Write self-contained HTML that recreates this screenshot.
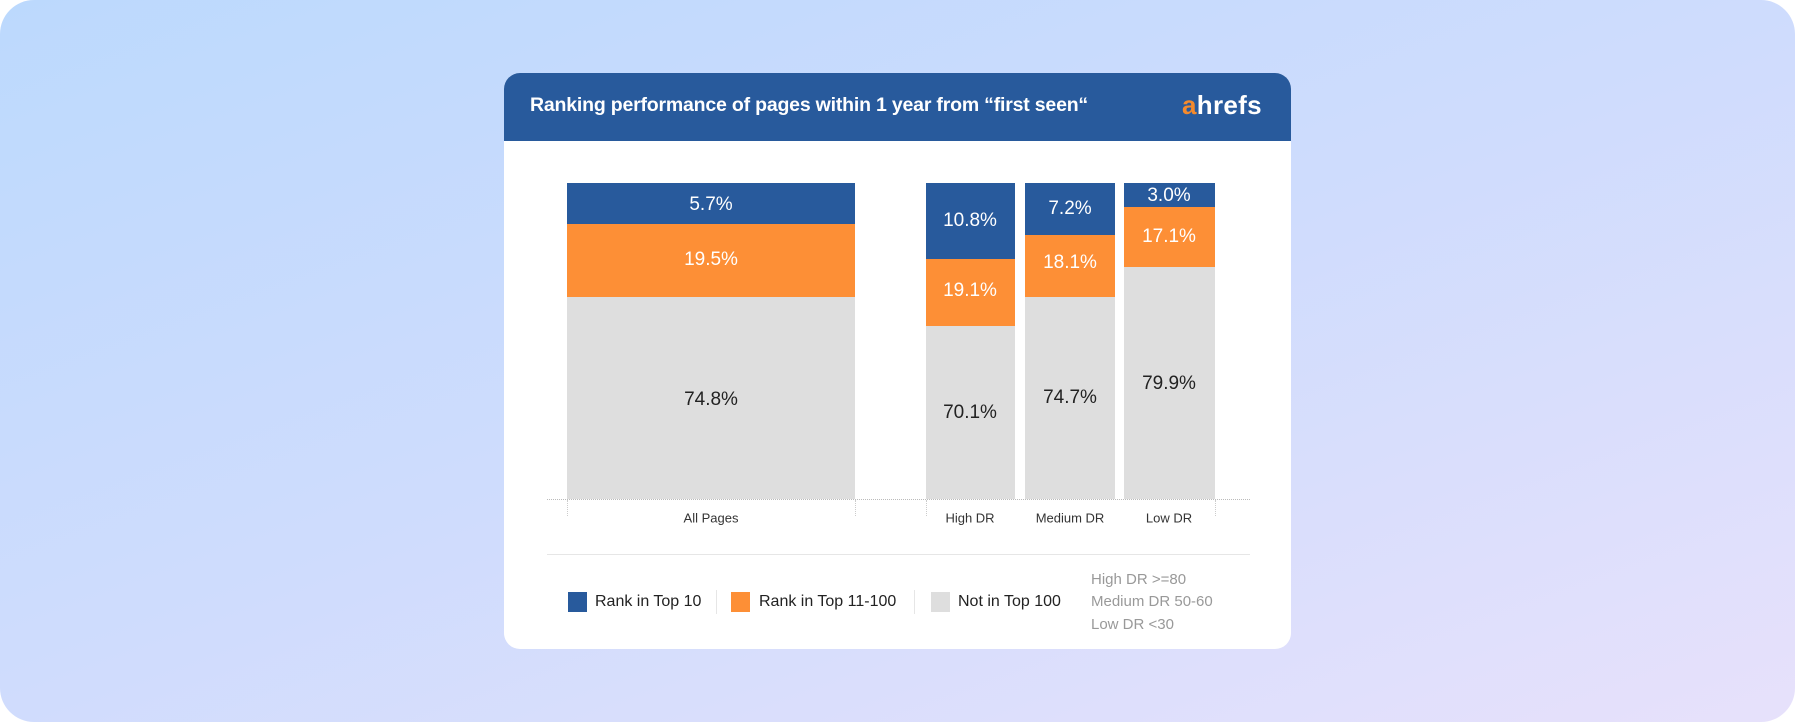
<!DOCTYPE html>
<html><head><style>
*{margin:0;padding:0;box-sizing:border-box}
body{width:1795px;height:722px;background:#fff;position:relative;overflow:hidden;font-family:"Liberation Sans",sans-serif}
.bg{position:absolute;left:0;top:0;width:1795px;height:722px;border-radius:34px;background:linear-gradient(160deg,#bcd9fd 0%,#cfdcfd 50%,#e7e1fb 100%)}
.card{position:absolute;left:504px;top:73px;width:787px;height:576px;background:#fff;border-radius:16px;overflow:hidden}
.hdr{position:absolute;left:0;top:0;width:787px;height:68px;background:#285a9c}
.abs{position:absolute}
.t{position:absolute;transform:translate(-50%,-50%);white-space:nowrap}
.w{color:#fff;font-size:19px}
.k{color:#222;font-size:19px}
.c{color:#333;font-size:13px}
.lg{font-size:16px;color:#222;transform:translateY(-50%)}
.g{font-size:15px;color:#999}
</style></head><body>
<div class="bg"></div>
<div class="card"><div class="hdr"></div></div>
<div class="abs" style="left:530px;top:94px;color:#fff;font-size:19.5px;font-weight:bold;white-space:nowrap;letter-spacing:-0.2px">Ranking performance of pages within 1 year from “first seen“</div>
<div class="abs" style="left:1182px;top:90px;font-size:26px;font-weight:bold;color:#fff;letter-spacing:0.3px"><span style="color:#f58a2c">a</span>hrefs</div>

<div class="abs" style="left:567px;top:183px;width:288px;height:41px;background:#285a9c"></div>
<div class="abs" style="left:567px;top:224px;width:288px;height:73px;background:#fd8f36"></div>
<div class="abs" style="left:567px;top:297px;width:288px;height:202px;background:#dedede"></div>

<div class="abs" style="left:926px;top:183px;width:89px;height:76px;background:#285a9c"></div>
<div class="abs" style="left:926px;top:259px;width:89px;height:67px;background:#fd8f36"></div>
<div class="abs" style="left:926px;top:326px;width:89px;height:173px;background:#dedede"></div>

<div class="abs" style="left:1025px;top:183px;width:90px;height:52px;background:#285a9c"></div>
<div class="abs" style="left:1025px;top:235px;width:90px;height:62px;background:#fd8f36"></div>
<div class="abs" style="left:1025px;top:297px;width:90px;height:202px;background:#dedede"></div>

<div class="abs" style="left:1124px;top:183px;width:91px;height:24px;background:#285a9c"></div>
<div class="abs" style="left:1124px;top:207px;width:91px;height:60px;background:#fd8f36"></div>
<div class="abs" style="left:1124px;top:267px;width:91px;height:232px;background:#dedede"></div>

<div class="t w" style="left:711px;top:205px">5.7%</div>
<div class="t w" style="left:711px;top:260px">19.5%</div>
<div class="t k" style="left:711px;top:400px">74.8%</div>
<div class="t w" style="left:970px;top:221px">10.8%</div>
<div class="t w" style="left:970px;top:291px">19.1%</div>
<div class="t k" style="left:970px;top:413px">70.1%</div>
<div class="t w" style="left:1070px;top:209px">7.2%</div>
<div class="t w" style="left:1070px;top:263px">18.1%</div>
<div class="t k" style="left:1070px;top:398px">74.7%</div>
<div class="t w" style="left:1169px;top:196px">3.0%</div>
<div class="t w" style="left:1169px;top:237px">17.1%</div>
<div class="t k" style="left:1169px;top:384px">79.9%</div>

<div class="abs" style="left:547px;top:499px;width:703px;border-top:1px dotted #bbb"></div>
<div class="abs" style="left:567px;top:500px;height:16px;border-left:1px dotted #ccc"></div>
<div class="abs" style="left:855px;top:500px;height:16px;border-left:1px dotted #ccc"></div>
<div class="abs" style="left:926px;top:500px;height:16px;border-left:1px dotted #ccc"></div>
<div class="abs" style="left:1215px;top:500px;height:16px;border-left:1px dotted #ccc"></div>
<div class="t c" style="left:711px;top:518px">All Pages</div>
<div class="t c" style="left:970px;top:518px">High DR</div>
<div class="t c" style="left:1070px;top:518px">Medium DR</div>
<div class="t c" style="left:1169px;top:518px">Low DR</div>
<div class="abs" style="left:547px;top:554px;width:703px;border-top:1px solid #e6e6e6"></div>

<div class="abs" style="left:568px;top:592px;width:19px;height:20px;background:#285a9c"></div>
<div class="abs lg" style="left:595px;top:602px">Rank in Top 10</div>
<div class="abs" style="left:716px;top:590px;height:24px;border-left:1px solid #e6e6e6"></div>
<div class="abs" style="left:731px;top:592px;width:19px;height:20px;background:#fd8f36"></div>
<div class="abs lg" style="left:759px;top:602px">Rank in Top 11-100</div>
<div class="abs" style="left:914px;top:590px;height:24px;border-left:1px solid #e6e6e6"></div>
<div class="abs" style="left:931px;top:592px;width:19px;height:20px;background:#dedede"></div>
<div class="abs lg" style="left:958px;top:602px">Not in Top 100</div>
<div class="abs g" style="left:1091px;top:571px">High DR &gt;=80</div>
<div class="abs g" style="left:1091px;top:593px">Medium DR 50-60</div>
<div class="abs g" style="left:1091px;top:616px">Low DR &lt;30</div>
</body></html>
